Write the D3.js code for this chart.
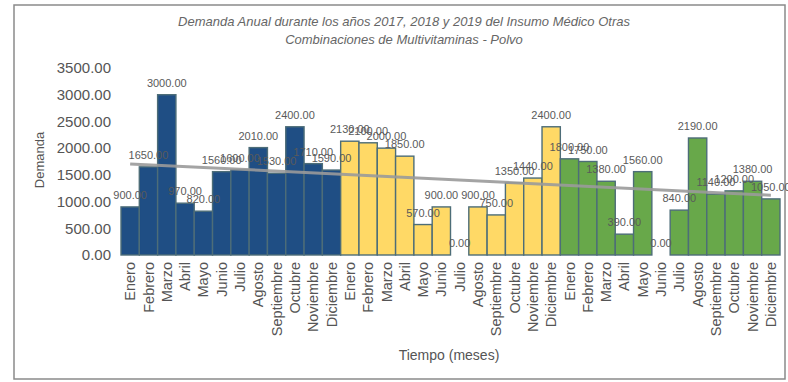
<!DOCTYPE html>
<html>
<head>
<meta charset="utf-8">
<script src="https://cdn.jsdelivr.net/npm/d3@7"></script>
<style>
  html, body { margin: 0; padding: 0; background: #fff; }
  svg { display: block; font-family: "Liberation Sans", Arial, sans-serif; }
</style>
</head>
<body>
<svg id="chart" width="788" height="382"></svg>
<script>
const months = ["Enero","Febrero","Marzo","Abril","Mayo","Junio","Julio","Agosto","Septiembre","Octubre","Noviembre","Diciembre"];
const years = ["2017","2018","2019"];
const values2017 = [900, 1650, 3000, 970, 820, 1560, 1600, 2010, 1530, 2400, 1710, 1590];
const values2018 = [2130, 2100, 2000, 1850, 570, 900, 0, 900, 750, 1350, 1440, 2400];
const values2019 = [1800, 1750, 1380, 390, 1560, 0, 840, 2190, 1140, 1200, 1380, 1050];
const yTicks = [0, 500, 1000, 1500, 2000, 2500, 3000, 3500];
const titleLines = ["Demanda Anual durante los años 2017, 2018 y 2019 del Insumo Médico Otras", "Combinaciones de Multivitaminas - Polvo"];
const yTitle = "Demanda";
const xTitle = "Tiempo (meses)";
const colors = ["#1f4e84", "#ffd966", "#68a84a"];

const series = [values2017, values2018, values2019];
const data = [];
series.forEach((vals, yi) => vals.forEach((v, mi) => data.push({ id: yi * 12 + mi, year: years[yi], yi, month: months[mi], value: v })));

const svg = d3.select("#chart");

// figure border
svg.append("rect").attr("x", 14).attr("y", 5).attr("width", 771).attr("height", 374)
  .attr("fill", "none").attr("stroke", "#8a8a8a").attr("stroke-width", 1.5);

const x = d3.scaleBand().domain(data.map(d => d.id)).range([121, 780]).paddingInner(0).paddingOuter(0);
const y = d3.scaleLinear().domain([0, 3500]).range([255, 68]);

// title
const title = svg.append("text").attr("text-anchor", "middle").attr("fill", "#666")
  .attr("font-style", "italic").attr("font-size", 13);
titleLines.forEach((t, i) => title.append("tspan").attr("x", 404).attr("y", 26 + i * 17.5).text(t));

// y axis
const yAxis = d3.axisLeft(y).tickValues(yTicks).tickFormat(d => d3.format(".2f")(d)).tickSize(0).tickPadding(0);
const gy = svg.append("g").attr("transform", "translate(111,0)").call(yAxis);
gy.select(".domain").remove();
gy.selectAll("text").attr("font-size", 15).attr("fill", "#555").attr("font-family", "Liberation Sans, Arial, sans-serif");

// bars
svg.append("g").selectAll("rect").data(data).join("rect")
  .attr("x", d => x(d.id))
  .attr("y", d => y(d.value))
  .attr("width", x.bandwidth())
  .attr("height", d => y(0) - y(d.value))
  .attr("fill", d => colors[d.yi])
  .attr("stroke", "#4d6d78")
  .attr("stroke-width", 1.4);

// trend line (least squares)
const n = data.length;
const mx = d3.mean(data, d => d.id), my = d3.mean(data, d => d.value);
const slope = d3.sum(data, d => (d.id - mx) * (d.value - my)) / d3.sum(data, d => (d.id - mx) ** 2);
const icpt = my - slope * mx;
const trend = [data[0].id, data[n - 1].id].map(i => ({ id: i, v: icpt + slope * i }));
svg.append("path").datum(trend)
  .attr("d", d3.line().x(d => x(d.id) + x.bandwidth() / 2).y(d => y(d.v)))
  .attr("stroke", "#9a9a9a").attr("stroke-width", 3).attr("fill", "none").attr("opacity", 0.9);

// value labels
svg.append("g").selectAll("text").data(data).join("text")
  .attr("x", d => x(d.id) + x.bandwidth() / 2)
  .attr("y", d => y(d.value) - 8)
  .attr("text-anchor", "middle")
  .attr("font-size", 11)
  .attr("fill", "#5a5a5a")
  .text(d => d3.format(".2f")(d.value));

// x axis labels
const xAxis = d3.axisBottom(x).tickFormat(id => data[id].month).tickSize(0).tickPadding(0);
const gx = svg.append("g").attr("transform", "translate(0,255)").call(xAxis);
gx.select(".domain").remove();
gx.selectAll("text")
  .attr("font-size", 14.5)
  .attr("fill", "#555")
  .attr("font-family", "Liberation Sans, Arial, sans-serif")
  .attr("text-anchor", "end")
  .attr("dy", "0.35em")
  .attr("transform", "translate(0,7) rotate(-90)")
  .attr("x", 0).attr("y", 0);

// axis titles
svg.append("text").attr("x", 449).attr("y", 360).attr("text-anchor", "middle")
  .attr("font-size", 14).attr("fill", "#555").text(xTitle);
svg.append("text").attr("transform", "translate(44,160) rotate(-90)").attr("text-anchor", "middle")
  .attr("font-size", 13).attr("fill", "#555").text(yTitle);
</script>
</body>
</html>
